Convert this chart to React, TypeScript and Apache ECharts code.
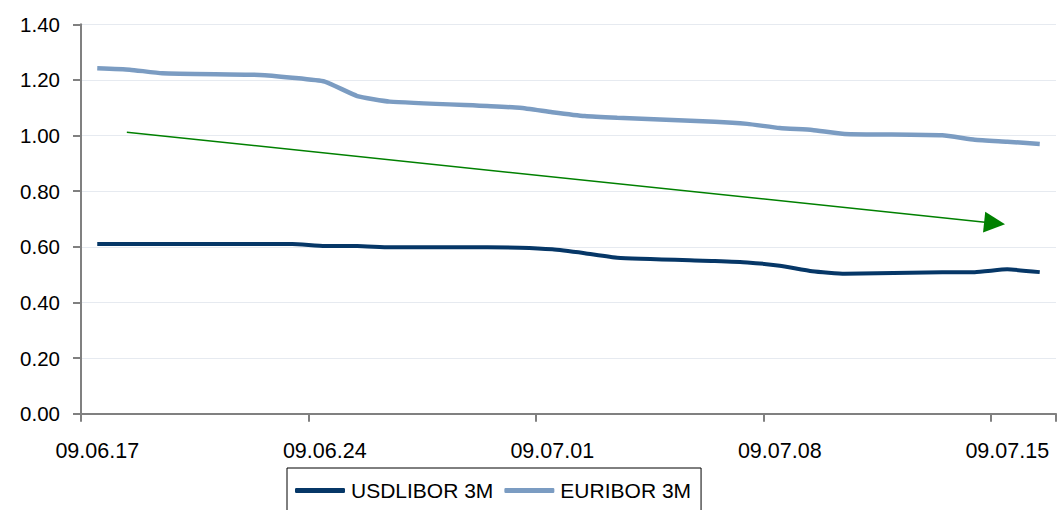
import React, { useEffect, useRef } from "react";
import * as echarts from "echarts";

const categories = [
  "09.06.17", "09.06.18", "09.06.19", "09.06.20", "09.06.21", "09.06.22", "09.06.23",
  "09.06.24", "09.06.25", "09.06.26", "09.06.27", "09.06.28", "09.06.29", "09.06.30",
  "09.07.01", "09.07.02", "09.07.03", "09.07.04", "09.07.05", "09.07.06", "09.07.07",
  "09.07.08", "09.07.09", "09.07.10", "09.07.11", "09.07.12", "09.07.13", "09.07.14",
  "09.07.15", "09.07.16",
];

const usdLibor = [
  0.61, 0.61, 0.61, null, null, 0.61, 0.61,
  0.603, 0.603, 0.598, null, null, 0.598, 0.597,
  0.591, 0.577, 0.561, null, null, 0.549, 0.544,
  0.532, 0.512, 0.503, null, null, 0.509, 0.509,
  0.519, 0.509,
];

const euribor = [
  1.242, 1.237, 1.224, null, null, 1.218, 1.208,
  1.194, 1.142, 1.122, null, null, 1.106, 1.1,
  1.084, 1.07, 1.064, null, null, 1.05, 1.042,
  1.027, 1.02, 1.006, null, null, 1.001, 0.985,
  0.978, 0.97,
];

// trend arrow, in [day offset from start of axis, value]
const arrowStart = [1.41, 1.012];
const arrowEnd = [28.11, 0.685];

const seriesNames = ["USDLIBOR 3M", "EURIBOR 3M"];
const FONT = "'Liberation Sans', Arial, sans-serif";

export default function App() {
  const ref = useRef<HTMLDivElement>(null);

  useEffect(() => {
    if (!ref.current) return;
    const chart = echarts.init(ref.current, undefined, { renderer: "svg" });
    chart.setOption({
      animation: false,
      grid: { left: 81, right: 1, top: 24.3, bottom: 96.3, containLabel: false },
      legend: {
        data: seriesNames,
        left: 287,
        top: 468,
        orient: "horizontal",
        icon: "roundRect",
        itemWidth: 50,
        itemHeight: 5,
        itemGap: 11,
        padding: [12, 10, 40, 8],
        borderColor: "#000",
        borderWidth: 1,
        textStyle: { fontFamily: FONT, fontSize: 21, color: "#000", padding: [0, 0, 0, 1] },
      },
      xAxis: [
        {
          type: "category",
          data: categories,
          boundaryGap: true,
          axisLine: { show: true, lineStyle: { color: "#808080", width: 2 } },
          axisTick: { show: true, interval: 6, length: 8, lineStyle: { color: "#808080", width: 2 } },
          axisLabel: { interval: 6, margin: 26, fontFamily: FONT, fontSize: 21.5, color: "#000" },
          splitLine: { show: false },
        },
        {
          type: "value",
          min: 0,
          max: 30,
          show: false,
          splitLine: { show: false },
        },
      ],
      yAxis: {
        type: "value",
        min: 0,
        max: 1.4,
        interval: 0.2,
        axisLine: { show: true, lineStyle: { color: "#808080", width: 2 } },
        axisTick: { show: true, length: 8, lineStyle: { color: "#808080", width: 2 } },
        axisLabel: {
          margin: 21,
          fontFamily: FONT,
          fontSize: 20.5,
          color: "#000",
          formatter: (v: number) => v.toFixed(2),
        },
        splitLine: { show: true, lineStyle: { color: "#e6eaf0", width: 1 } },
      },
      series: [
        {
          name: seriesNames[0],
          type: "line",
          data: usdLibor,
          connectNulls: true,
          smooth: 0.15,
          showSymbol: false,
          symbol: "none",
          itemStyle: { color: "#063767" },
          lineStyle: { color: "#063767", width: 4 },
          z: 3,
        },
        {
          name: seriesNames[1],
          type: "line",
          data: euribor,
          connectNulls: true,
          smooth: 0.15,
          showSymbol: false,
          symbol: "none",
          itemStyle: { color: "#7b9cc2" },
          lineStyle: { color: "#7b9cc2", width: 4.5 },
          z: 3,
        },
        {
          name: "trend",
          type: "line",
          xAxisIndex: 1,
          data: [],
          markLine: {
            silent: true,
            symbol: ["none", "triangle"],
            symbolSize: 21,
            label: { show: false },
            lineStyle: { color: "#008000", width: 1.5, type: "solid" },
            data: [[{ coord: arrowStart }, { coord: arrowEnd }]],
          },
        },
      ],
    });
    return () => chart.dispose();
  }, []);

  return (
    <div
      ref={ref}
      style={{ position: "fixed", left: 0, top: 0, width: 1057, height: 510, background: "#fff" }}
    />
  );
}
